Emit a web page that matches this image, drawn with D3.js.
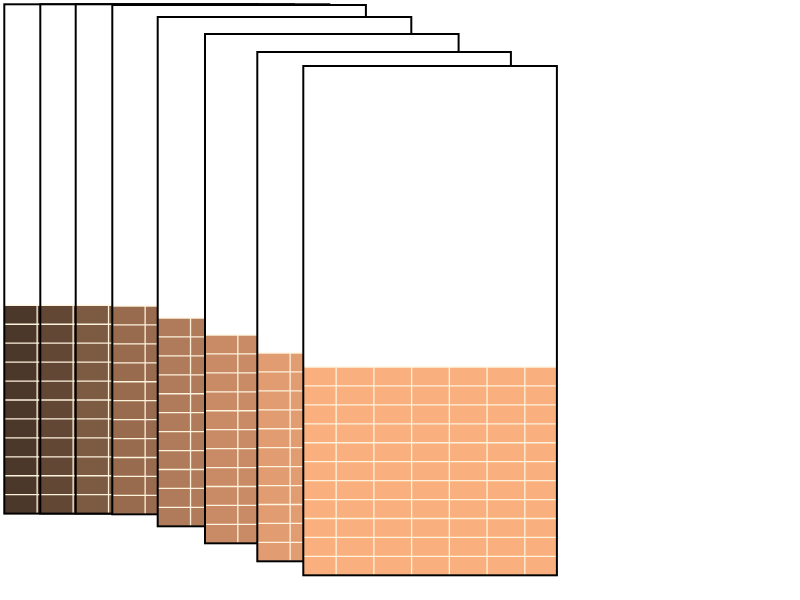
<!DOCTYPE html>
<html>
<head>
<meta charset="utf-8">
<script src="https://cdn.jsdelivr.net/npm/d3@7"></script>
<style>
  html, body { margin: 0; padding: 0; background: #ffffff; }
  svg { display: block; }
</style>
</head>
<body>
<div id="chart"></div>
<script>
// ---- data ----
const categories = ["1", "2", "3", "4", "5", "6", "7", "8"];
const values = [11, 11, 11, 11, 11, 11, 11, 11];
const yMax = 26.9;
const xTicks = [0, 1, 2, 3, 4, 5];
const xDomain = [-0.87, 5.85];
const fillColors = ["#4b382b", "#624735", "#7d5a42", "#986b4e", "#b07b5a", "#c98b66", "#e19c72", "#f9b07e"];

// ---- layout (card placement) ----
const cardLeft = [4.3, 40.3, 75.7, 112.3, 157.7, 205, 257.3, 303.3];
const cardTop = [4.3, 4.3, 4.3, 5, 17, 34, 52, 66];
const cardW = 253.6, cardH = 509.3;

const svg = d3.select("#chart").append("svg")
  .attr("width", 800).attr("height", 600);

const x = d3.scaleLinear().domain(xDomain).range([0, cardW]);
const y = d3.scaleLinear().domain([0, yMax]).range([cardH, 0]);
const yTicks = d3.range(0, Math.floor(yMax) + 1);

categories.forEach((c, i) => {
  const g = svg.append("g").attr("transform", `translate(${cardLeft[i]},${cardTop[i]})`);
  // background
  g.append("rect").attr("x", 0).attr("y", 0).attr("width", cardW).attr("height", cardH)
    .attr("fill", "#ffffff");
  // fill
  const v = values[i];
  g.append("rect").attr("x", 0).attr("y", y(v)).attr("width", cardW).attr("height", cardH - y(v))
    .attr("fill", fillColors[i]);
  // horizontal grid within fill
  g.selectAll(".hg").data(yTicks.filter(t => t <= v)).enter().append("line")
    .attr("x1", 0).attr("x2", cardW)
    .attr("y1", d => y(d)).attr("y2", d => y(d))
    .attr("stroke", "#fdf2dc").attr("stroke-width", 1.3);
  // vertical grid within fill
  g.selectAll(".vg").data(xTicks).enter().append("line")
    .attr("x1", d => x(d)).attr("x2", d => x(d))
    .attr("y1", y(v)).attr("y2", cardH)
    .attr("stroke", "#fdf2dc").attr("stroke-width", 1.3);
  // border
  g.append("rect").attr("x", 0).attr("y", 0).attr("width", cardW).attr("height", cardH)
    .attr("fill", "none").attr("stroke", "#000000").attr("stroke-width", 2);
});
</script>
</body>
</html>
